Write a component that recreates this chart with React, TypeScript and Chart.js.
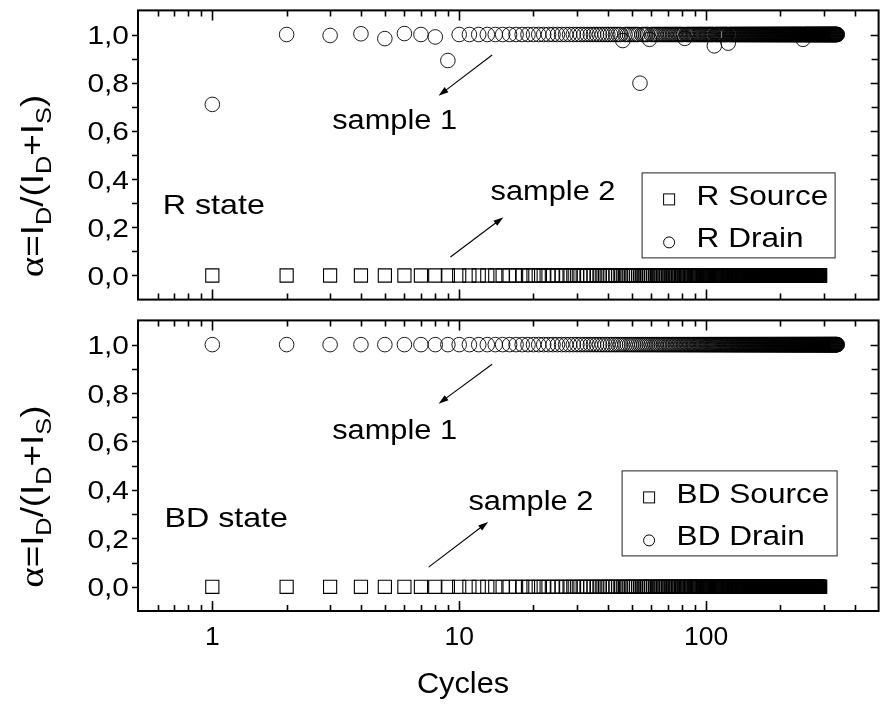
import React, { useEffect, useRef } from 'react';
import { Chart, registerables } from 'chart.js';
Chart.register(...registerables);

// ---------------- data ----------------
const CYCLES = [
  1,2,3,4,5,6,7,8,9,10,11,12,13,14,15,16,17,18,19,20,
  21,22,23,24,25,26,27,28,29,30,31,32,33,34,35,36,37,38,39,40,
  41,42,43,44,45,46,47,48,49,50,51,52,53,54,55,56,57,58,59,60,
  61,62,63,64,65,66,67,68,69,70,71,72,73,74,75,76,77,78,79,80,
  81,82,83,84,85,86,87,88,89,90,91,92,93,94,95,96,97,98,99,100,
  101,102,103,104,105,106,107,108,109,110,111,112,113,114,115,116,117,118,119,120,
  121,122,123,124,125,126,127,128,129,130,131,132,133,134,135,136,137,138,139,140,
  141,142,143,144,145,146,147,148,149,150,151,152,153,154,155,156,157,158,159,160,
  161,162,163,164,165,166,167,168,169,170,171,172,173,174,175,176,177,178,179,180,
  181,182,183,184,185,186,187,188,189,190,191,192,193,194,195,196,197,198,199,200,
  201,202,203,204,205,206,207,208,209,210,211,212,213,214,215,216,217,218,219,220,
  221,222,223,224,225,226,227,228,229,230,231,232,233,234,235,236,237,238,239,240,
  241,242,243,244,245,246,247,248,249,250,251,252,253,254,255,256,257,258,259,260,
  261,262,263,264,265,266,267,268,269,270,271,272,273,274,275,276,277,278,279,280,
  281,282,283,284,285,286,287,288,289,290,291,292,293,294,295,296,297,298,299,300,
  301,302,303,304,305,306,307,308,309,310,311,312,313,314,315,316,317,318,319,320,
  321,322,323,324,325,326,327,328,329,330,331,332,333,334,335,336,337,338,339,340,
];

// R state: source fraction (cycles 1..290)
const R_SOURCE = [
  0,0,0,0,0,0,0,0,0,0, 0,0,0,0,0,0,0,0,0,0, 0,0,0,0,0,0,0,0,0,0,
  0,0,0,0,0,0,0,0,0,0, 0,0,0,0,0,0,0,0,0,0, 0,0,0,0,0,0,0,0,0,0,
  0,0,0,0,0,0,0,0,0,0, 0,0,0,0,0,0,0,0,0,0, 0,0,0,0,0,0,0,0,0,0,
  0,0,0,0,0,0,0,0,0,0, 0,0,0,0,0,0,0,0,0,0, 0,0,0,0,0,0,0,0,0,0,
  0,0,0,0,0,0,0,0,0,0, 0,0,0,0,0,0,0,0,0,0, 0,0,0,0,0,0,0,0,0,0,
  0,0,0,0,0,0,0,0,0,0, 0,0,0,0,0,0,0,0,0,0, 0,0,0,0,0,0,0,0,0,0,
  0,0,0,0,0,0,0,0,0,0, 0,0,0,0,0,0,0,0,0,0, 0,0,0,0,0,0,0,0,0,0,
  0,0,0,0,0,0,0,0,0,0, 0,0,0,0,0,0,0,0,0,0, 0,0,0,0,0,0,0,0,0,0,
  0,0,0,0,0,0,0,0,0,0, 0,0,0,0,0,0,0,0,0,0, 0,0,0,0,0,0,0,0,0,0,
  0,0,0,0,0,0,0,0,0,0, 0,0,0,0,0,0,0,0,0,0,
];

// R state: drain fraction (cycles 1..340)
const R_DRAIN = [
  0.71,1,0.996,1.003,0.983,1.004,1,0.99,0.892,1,
  1,1,1,1,1,1,1,1,1,1, 1,1,1,1,1,1,1,1,1,1, 1,1,1,1,1,1,1,1,1,1,
  1,1,1,1,1,0.975,1,1,1,1,
  1,1,1,0.798,1,1,1,1,0.98,1,
  1,1,1,1,1,1,1,1,1,1, 1,1,1,1,1,1,1,1,1,1,
  1,0.984,1,1,1,1,1,1,1,1,
  1,1,1,1,1,1,1,1,1,1,
  1,1,1,1,1,1,1,0.953,1,1,
  1,1,1,1,1,1,1,1,1,1,
  1,1,0.964,1,1,1,1,1,1,1,
  1,1,1,1,1,1,1,1,1,1, 1,1,1,1,1,1,1,1,1,1, 1,1,1,1,1,1,1,1,1,1,
  1,1,1,1,1,1,1,1,1,1, 1,1,1,1,1,1,1,1,1,1, 1,1,1,1,1,1,1,1,1,1,
  1,1,1,1,1,1,1,1,1,1, 1,1,1,1,1,1,1,1,1,1, 1,1,1,1,1,1,1,1,1,1,
  1,1,1,1,1,1,1,1,1,1, 1,1,1,1,1,1,1,1,1,1,
  1,1,1,1,1,1,0.98,1,1,1,
  1,1,1,1,1,1,1,1,1,1, 1,1,1,1,1,1,1,1,1,1, 1,1,1,1,1,1,1,1,1,1,
  1,1,1,1,1,1,1,1,1,1, 1,1,1,1,1,1,1,1,1,1, 1,1,1,1,1,1,1,1,1,1,
  1,1,1,1,1,1,1,1,1,1, 1,1,1,1,1,1,1,1,1,1, 1,1,1,1,1,1,1,1,1,1,
];

// BD state: source fraction (cycles 1..290)
const BD_SOURCE = [
  0,0,0,0,0,0,0,0,0,0, 0,0,0,0,0,0,0,0,0,0, 0,0,0,0,0,0,0,0,0,0,
  0,0,0,0,0,0,0,0,0,0, 0,0,0,0,0,0,0,0,0,0, 0,0,0,0,0,0,0,0,0,0,
  0,0,0,0,0,0,0,0,0,0, 0,0,0,0,0,0,0,0,0,0, 0,0,0,0,0,0,0,0,0,0,
  0,0,0,0,0,0,0,0,0,0, 0,0,0,0,0,0,0,0,0,0, 0,0,0,0,0,0,0,0,0,0,
  0,0,0,0,0,0,0,0,0,0, 0,0,0,0,0,0,0,0,0,0, 0,0,0,0,0,0,0,0,0,0,
  0,0,0,0,0,0,0,0,0,0, 0,0,0,0,0,0,0,0,0,0, 0,0,0,0,0,0,0,0,0,0,
  0,0,0,0,0,0,0,0,0,0, 0,0,0,0,0,0,0,0,0,0, 0,0,0,0,0,0,0,0,0,0,
  0,0,0,0,0,0,0,0,0,0, 0,0,0,0,0,0,0,0,0,0, 0,0,0,0,0,0,0,0,0,0,
  0,0,0,0,0,0,0,0,0,0, 0,0,0,0,0,0,0,0,0,0, 0,0,0,0,0,0,0,0,0,0,
  0,0,0,0,0,0,0,0,0,0, 0,0,0,0,0,0,0,0,0,0,
];

// BD state: drain fraction (cycles 1..340)
const BD_DRAIN = [
  1,1,1,1,1,1,1,1,1,1, 1,1,1,1,1,1,1,1,1,1, 1,1,1,1,1,1,1,1,1,1,
  1,1,1,1,1,1,1,1,1,1, 1,1,1,1,1,1,1,1,1,1, 1,1,1,1,1,1,1,1,1,1,
  1,1,1,1,1,1,1,1,1,1, 1,1,1,1,1,1,1,1,1,1, 1,1,1,1,1,1,1,1,1,1,
  1,1,1,1,1,1,1,1,1,1, 1,1,1,1,1,1,1,1,1,1, 1,1,1,1,1,1,1,1,1,1,
  1,1,1,1,1,1,1,1,1,1, 1,1,1,1,1,1,1,1,1,1, 1,1,1,1,1,1,1,1,1,1,
  1,1,1,1,1,1,1,1,1,1, 1,1,1,1,1,1,1,1,1,1, 1,1,1,1,1,1,1,1,1,1,
  1,1,1,1,1,1,1,1,1,1, 1,1,1,1,1,1,1,1,1,1, 1,1,1,1,1,1,1,1,1,1,
  1,1,1,1,1,1,1,1,1,1, 1,1,1,1,1,1,1,1,1,1, 1,1,1,1,1,1,1,1,1,1,
  1,1,1,1,1,1,1,1,1,1, 1,1,1,1,1,1,1,1,1,1, 1,1,1,1,1,1,1,1,1,1,
  1,1,1,1,1,1,1,1,1,1, 1,1,1,1,1,1,1,1,1,1, 1,1,1,1,1,1,1,1,1,1,
  1,1,1,1,1,1,1,1,1,1, 1,1,1,1,1,1,1,1,1,1, 1,1,1,1,1,1,1,1,1,1,
  1,1,1,1,1,1,1,1,1,1,
];

const R_NAMES = ['R Source', 'R Drain'];
const BD_NAMES = ['BD Source', 'BD Drain'];

const X_MAJOR = [1, 10, 100];
const X_LABELS = ['1', '10', '100'];
const X_MINOR = [0.6, 0.7, 0.8, 0.9, 2, 3, 4, 5, 6, 7, 8, 9, 20, 30, 40, 50, 60, 70, 80, 90, 200, 300, 400];
const Y_MAJOR = [0, 0.2, 0.4, 0.6, 0.8, 1.0];
const Y_LABELS = ['0,0', '0,2', '0,4', '0,6', '0,8', '1,0'];
const Y_MINOR = [0.1, 0.3, 0.5, 0.7, 0.9];
const X_MIN = 0.5, X_MAX = 500, Y_MIN = -0.1, Y_MAX = 1.1;
const X_TITLE = 'Cycles';

// annotations (data coordinates)
const R_NOTES = {
  state: { text: 'R state', x: 0.63, y: 0.254 },
  s1: { text: 'sample 1', x: 3.06, y: 0.609 },
  a1: { x1: 13.6, y1: 0.915, x2: 8.25, y2: 0.746 },
  s2: { text: 'sample 2', x: 13.4, y: 0.312 },
  a2: { x1: 9.22, y1: 0.077, x2: 15.1, y2: 0.242 },
};
const BD_NOTES = {
  state: { text: 'BD state', x: 0.64, y: 0.248 },
  s1: { text: 'sample 1', x: 3.06, y: 0.61 },
  a1: { x1: 13.6, y1: 0.919, x2: 8.25, y2: 0.756 },
  s2: { text: 'sample 2', x: 10.9, y: 0.317 },
  a2: { x1: 7.52, y1: 0.081, x2: 13.1, y2: 0.268 },
};

// ---------------- drawing helpers ----------------
const SANS = '"Liberation Sans", Arial, Helvetica, sans-serif';

function drawText(ctx: CanvasRenderingContext2D, text: string, x: number, y: number, size: number, align: string, sx: number) {
  ctx.save();
  ctx.font = `${size}px ${SANS}`;
  ctx.textAlign = 'left';
  ctx.textBaseline = 'alphabetic';
  ctx.fillStyle = '#000';
  const w = ctx.measureText(text).width * sx;
  const x0 = align === 'right' ? x - w : align === 'center' ? x - w / 2 : x;
  ctx.translate(x0, y);
  ctx.scale(sx, 1);
  ctx.fillText(text, 0, 0);
  ctx.restore();
}

function drawYTitle(ctx: CanvasRenderingContext2D, bx: number, cy: number) {
  const F = 32, SF = 22, S = 1.15;
  const segs = [
    { t: 'α', f: `${F + 2}px "Liberation Serif", "DejaVu Serif", serif`, dy: 0 },
    { t: '=I', f: `${F}px ${SANS}`, dy: 0 },
    { t: 'D', f: `${SF}px ${SANS}`, dy: 8 },
    { t: '/(I', f: `${F}px ${SANS}`, dy: 0 },
    { t: 'D', f: `${SF}px ${SANS}`, dy: 8 },
    { t: '+I', f: `${F}px ${SANS}`, dy: 0 },
    { t: 'S', f: `${SF}px ${SANS}`, dy: 8 },
    { t: ')', f: `${F}px ${SANS}`, dy: 0 },
  ];
  ctx.save();
  ctx.translate(bx, cy);
  ctx.rotate(-Math.PI / 2);
  ctx.scale(S, 1);
  ctx.fillStyle = '#000';
  ctx.textBaseline = 'alphabetic';
  ctx.textAlign = 'left';
  let total = 0;
  const widths = segs.map((s) => { ctx.font = s.f; const w = ctx.measureText(s.t).width; total += w; return w; });
  let x = -total / 2;
  segs.forEach((s, i) => { ctx.font = s.f; ctx.fillText(s.t, x, s.dy); x += widths[i]; });
  ctx.restore();
}

function drawArrow(ctx: CanvasRenderingContext2D, x1: number, y1: number, x2: number, y2: number) {
  const ang = Math.atan2(y2 - y1, x2 - x1);
  const L = 10, W = 3.2;
  ctx.save();
  ctx.strokeStyle = '#000';
  ctx.fillStyle = '#000';
  ctx.lineWidth = 1.1;
  ctx.beginPath();
  ctx.moveTo(x1, y1);
  ctx.lineTo(x2 - Math.cos(ang) * L * 0.6, y2 - Math.sin(ang) * L * 0.6);
  ctx.stroke();
  ctx.beginPath();
  ctx.moveTo(x2, y2);
  ctx.lineTo(x2 - Math.cos(ang) * L - Math.sin(ang) * W, y2 - Math.sin(ang) * L + Math.cos(ang) * W);
  ctx.lineTo(x2 - Math.cos(ang) * L + Math.sin(ang) * W, y2 - Math.sin(ang) * L - Math.cos(ang) * W);
  ctx.closePath();
  ctx.fill();
  ctx.restore();
}

type PanelProps = {
  source: number[];
  drain: number[];
  names: string[];
  notes: any;
  height: number;
  padTop: number;
  padBottom: number;
  showX: boolean;
  legend: { dx: number; dy: number; w: number; h: number };
  top: number;
};

function Panel(p: PanelProps) {
  const ref = useRef<HTMLCanvasElement | null>(null);
  useEffect(() => {
    const canvas = ref.current;
    if (!canvas) return;
    const frame = {
      id: 'frame',
      afterDraw(chart: any) {
        const ctx: CanvasRenderingContext2D = chart.ctx;
        const a = chart.chartArea;
        const xs = chart.scales.x;
        const ys = chart.scales.y;
        ctx.save();
        // frame
        ctx.strokeStyle = '#000';
        ctx.lineWidth = 2;
        ctx.strokeRect(a.left, a.top, a.right - a.left, a.bottom - a.top);
        // x ticks (inward, top & bottom)
        ctx.lineWidth = 1.6;
        ctx.beginPath();
        X_MAJOR.forEach((v) => {
          const px = Math.round(xs.getPixelForValue(v)) + 0.5;
          ctx.moveTo(px, a.bottom); ctx.lineTo(px, a.bottom - 10);
          ctx.moveTo(px, a.top); ctx.lineTo(px, a.top + 10);
        });
        X_MINOR.forEach((v) => {
          const px = Math.round(xs.getPixelForValue(v)) + 0.5;
          ctx.moveTo(px, a.bottom); ctx.lineTo(px, a.bottom - 6);
          ctx.moveTo(px, a.top); ctx.lineTo(px, a.top + 6);
        });
        // y ticks: left outward, right inward
        Y_MAJOR.forEach((v) => {
          const py = Math.round(ys.getPixelForValue(v)) + 0.5;
          ctx.moveTo(a.left - 6, py); ctx.lineTo(a.left, py);
          ctx.moveTo(a.right, py); ctx.lineTo(a.right - 8, py);
        });
        Y_MINOR.forEach((v) => {
          const py = Math.round(ys.getPixelForValue(v)) + 0.5;
          ctx.moveTo(a.left - 6, py); ctx.lineTo(a.left, py);
          ctx.moveTo(a.right, py); ctx.lineTo(a.right - 7, py);
        });
        ctx.stroke();
        // y labels
        Y_MAJOR.forEach((v, i) => {
          drawText(ctx, Y_LABELS[i], a.left - 9, ys.getPixelForValue(v) + 9.5, 26, 'right', 1.15);
        });
        // x labels + title
        if (p.showX) {
          X_MAJOR.forEach((v, i) => {
            drawText(ctx, X_LABELS[i], xs.getPixelForValue(v), a.bottom + 34, 26, 'center', 1.02);
          });
          drawText(ctx, X_TITLE, a.left + 325, a.bottom + 82, 29, 'center', 1.06);
        }
        // y title
        drawYTitle(ctx, 43, (a.top + a.bottom) / 2 + 31);
        // annotations
        const n = p.notes;
        const X = (v: number) => xs.getPixelForValue(v);
        const Y = (v: number) => ys.getPixelForValue(v);
        drawText(ctx, n.state.text, X(n.state.x), Y(n.state.y), 28, 'left', 1.15);
        drawText(ctx, n.s1.text, X(n.s1.x), Y(n.s1.y), 27, 'left', 1.14);
        drawText(ctx, n.s2.text, X(n.s2.x), Y(n.s2.y), 27, 'left', 1.14);
        drawArrow(ctx, X(n.a1.x1), Y(n.a1.y1), X(n.a1.x2), Y(n.a1.y2));
        drawArrow(ctx, X(n.a2.x1), Y(n.a2.y1), X(n.a2.x2), Y(n.a2.y2));
        // legend
        const L = p.legend;
        const bx = a.right - L.dx, by = a.top + L.dy;
        ctx.lineWidth = 1;
        ctx.strokeStyle = '#222';
        ctx.strokeRect(bx + 0.5, by + 0.5, L.w, L.h);
        ctx.strokeStyle = '#000';
        ctx.lineWidth = 1;
        const ds = chart.data.datasets;
        ctx.strokeRect(bx + 27.5 - 5.5, by + 27 - 5.5, 11, 11);
        ctx.beginPath();
        ctx.arc(bx + 27.5, by + 70, 5.5, 0, Math.PI * 2);
        ctx.stroke();
        drawText(ctx, ds[0].label, bx + 55, by + 33, 27, 'left', 1.17);
        drawText(ctx, ds[1].label, bx + 55, by + 75, 27, 'left', 1.17);
        ctx.restore();
      },
    };
    const chart = new Chart(canvas, {
      type: 'scatter',
      data: {
        datasets: [
          {
            label: p.names[0],
            data: p.source.map((v, i) => ({ x: CYCLES[i], y: v })),
            pointStyle: 'rect',
            pointRadius: 9.3,
            borderColor: '#000',
            backgroundColor: 'rgba(0,0,0,0)',
            borderWidth: 1.1,
            showLine: false,
          },
          {
            label: p.names[1],
            data: p.drain.map((v, i) => ({ x: CYCLES[i], y: v })),
            pointStyle: 'circle',
            pointRadius: 7.3,
            borderColor: '#000',
            backgroundColor: 'rgba(0,0,0,0)',
            borderWidth: 0.9,
            showLine: false,
          },
        ],
      },
      options: {
        responsive: false,
        animation: false,
        events: [],
        layout: { padding: { left: 138, right: 7, top: p.padTop, bottom: p.padBottom } },
        plugins: { legend: { display: false }, tooltip: { enabled: false }, title: { display: false } },
        scales: {
          x: { type: 'logarithmic', min: X_MIN, max: X_MAX, display: false },
          y: { type: 'linear', min: Y_MIN, max: Y_MAX, display: false },
        },
      },
      plugins: [frame],
    });
    return () => chart.destroy();
  }, []);
  return (
    <canvas
      ref={ref}
      width={889}
      height={p.height}
      style={{ position: 'absolute', left: 0, top: p.top, width: 889, height: p.height, display: 'block' }}
    />
  );
}

export default function App() {
  return (
    <div style={{ position: 'fixed', left: 0, top: 0, width: 889, height: 709, background: '#fff', overflow: 'hidden' }}>
      <Panel
        source={R_SOURCE}
        drain={R_DRAIN}
        names={R_NAMES}
        notes={R_NOTES}
        height={310}
        top={0}
        padTop={10}
        padBottom={3}
        showX={false}
        legend={{ dx: 237, dy: 162, w: 193, h: 85 }}
      />
      <Panel
        source={BD_SOURCE}
        drain={BD_DRAIN}
        names={BD_NAMES}
        notes={BD_NOTES}
        height={399}
        top={310}
        padTop={3}
        padBottom={98}
        showX={true}
        legend={{ dx: 257, dy: 150, w: 215, h: 85 }}
      />
    </div>
  );
}
